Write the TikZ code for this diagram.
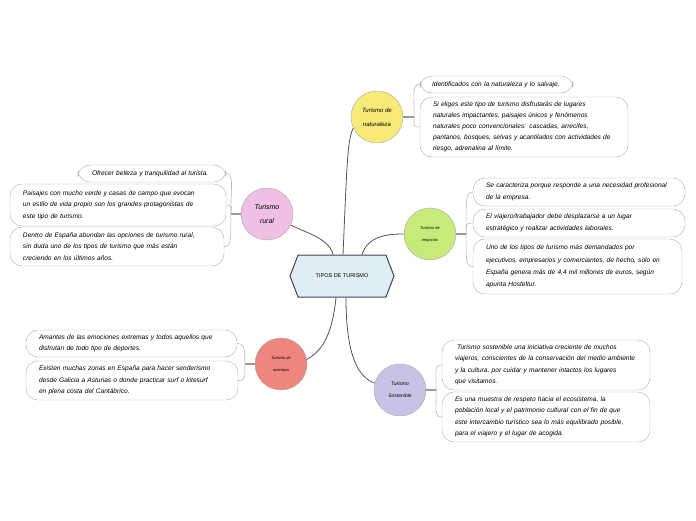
\documentclass[tikz,border=0pt]{standalone}
\usepackage{fontspec}
\setmainfont{Liberation Sans}
\usetikzlibrary{positioning, shapes.symbols}
\definecolor{hubblue}{RGB}{223,238,245}
\definecolor{hubedge}{RGB}{64,69,80}
\definecolor{natyellow}{RGB}{247,234,118}
\definecolor{neggreen}{RGB}{200,234,122}
\definecolor{ruralpink}{RGB}{239,192,228}
\definecolor{aventred}{RGB}{238,134,126}
\definecolor{sostlilac}{RGB}{201,194,230}
\definecolor{linkgray}{RGB}{85,85,85}

\begin{document}
\begin{tikzpicture}[x=1pt, y=-1pt,
       hub/.style={shape=signal, signal to=east and west, signal pointer angle=138,
                   draw=hubedge, line width=1pt, fill=hubblue, minimum width=104pt,
                   minimum height=42pt, font=\fontsize{5.5}{7}\selectfont},
       topic/.style={circle, draw=gray!70, fill=#1, minimum size=52pt, inner sep=0pt,
                   align=center},
       note/.style={draw=gray!65, rounded corners=12pt, fill=white, align=left,
                   text width=#1, inner xsep=13pt, inner ysep=0pt,
                   font=\fontsize{6.6}{11.5}\selectfont\itshape},
       lnk/.style={draw=linkgray, line width=0.8pt},
       stub/.style={draw=gray!80, line width=1.3pt},
       brace/.style={draw=gray!55, line width=0.6pt}]
     \useasboundingbox (0,0) rectangle (696,520);
     % centre and topics
     \node[hub] (hub) at (342,276) {TIPOS DE TURISMO};
     \node[topic=natyellow, font=\fontsize{6}{14}\selectfont\itshape] (natur) at (377,117) {Turismo de\\naturaleza};
     \node[topic=neggreen, font=\fontsize{4}{12}\selectfont\itshape] (neg) at (430,234) {Turismo de\\negocios};
     \node[topic=ruralpink, font=\fontsize{7}{14}\selectfont\itshape] (rural) at (267,214) {Turismo\\rural};
     \node[topic=aventred, font=\fontsize{4}{12}\selectfont\itshape] (avent) at (281,364) {Turismo de\\aventura};
     \node[topic=sostlilac, font=\fontsize{5}{12}\selectfont\itshape] (sost) at (400,390) {Turismo\\Sostenible};
     \draw[lnk] ([xshift=-9pt]hub.north) .. controls +(-4,-16) and +(16,8) .. (rural.-25);
     \draw[lnk] ([xshift=1pt]hub.north) .. controls +(4,-90) and +(-6,12) .. (natur.205);
     \draw[lnk] ([xshift=20pt]hub.north) .. controls +(6,-18) and +(-18,0) .. (neg.west);
     \draw[lnk] ([xshift=-6pt]hub.south) .. controls +(-4,40) and +(14,-8) .. (avent.10);
     \draw[lnk] ([xshift=4pt]hub.south) .. controls +(0,60) and +(-16,-6) .. (sost.165);
     % naturaleza
     \node[note=141pt, inner xsep=6pt, minimum height=17pt] (nat1) at (496.5,84.5) {\hspace*{6pt}Identificados con la naturaleza y lo salvaje.};
     \node[note=182pt, minimum height=60pt, font=\fontsize{6.6}{11}\selectfont\itshape] (nat2) at (524,127)
        {Si eliges este tipo de turismo disfrutarás de lugares\\naturales impactantes, paisajes únicos y fenómenos\\naturales poco convencionales: cascadas, arrecifes,\\pantanos, bosques, selvas y acantilados con actividades de\\riesgo, adrenalina al límite.};
     \coordinate (jnat) at ([xshift=11pt]natur.east);
     \draw[stub] (natur.east) -- (jnat);
     \draw[brace] (jnat) .. controls +(0,-25) and +(-8,0) .. (nat1.west);
     \draw[brace] (jnat) .. controls +(0,8) and +(-8,0) .. (nat2.west);
     % negocios
     \node[note=186pt, minimum height=28pt] (neg1) at (579,192) {Se caracteriza porque responde a una necesidad profesional\\de la empresa.};
     \node[note=186pt, minimum height=28pt] (neg2) at (579,223) {El viajero/trabajador debe desplazarse a un lugar\\estratégico y realizar actividades laborales.};
     \node[note=183pt, minimum height=55pt, font=\fontsize{6.6}{12.3}\selectfont\itshape] (neg3) at (577.5,266.5)
        {Uno de los tipos de turismo más demandados por\\ejecutivos, empresarios y comerciantes, de hecho, solo en\\España genera más de 4,4 mil millones de euros, según\\apunta Hosteltur.};
     \coordinate (jneg) at ([xshift=10pt]neg.east);
     \draw[stub] (neg.east) -- (jneg);
     \draw[brace] (jneg) .. controls +(0,-30) and +(-8,0) .. (neg1.west);
     \draw[brace] (jneg) .. controls +(0,-8) and +(-8,0) .. (neg2.west);
     \draw[brace] (jneg) .. controls +(0,22) and +(-8,0) .. (neg3.west);
     % rural
     \node[note=122pt, minimum height=17pt] (rur1) at (152,173.5) {\hspace*{1pt}Ofrecer belleza y tranquilidad al turista.};
     \node[note=190pt, minimum height=42pt] (rur2) at (118,205) {Paisajes con mucho verde y casas de campo que evocan\\un estilo de vida propio son los grandes protagonistas de\\este tipo de turismo.};
     \node[note=188pt, minimum height=39pt] (rur3) at (117,246.5) {Dentro de España abundan las opciones de turismo rural,\\sin duda uno de los tipos de turismo que más están\\creciendo en los últimos años.};
     \coordinate (jrur) at ([xshift=-10pt]rural.west);
     \draw[stub] (rural.west) -- (jrur);
     \draw[brace] (jrur) .. controls +(0,-28) and +(8,0) .. (rur1.east);
     \draw[brace] (jrur) .. controls +(0,-6) and +(8,0) .. (rur2.east);
     \draw[brace] (jrur) .. controls +(0,22) and +(8,0) .. (rur3.east);
     % aventura
     \node[note=185pt, minimum height=27pt] (av1) at (131.5,343.5) {Amantes de las emociones extremas y todos aquellos que\\disfrutan de todo tipo de deportes.};
     \node[note=186pt, minimum height=39pt] (av2) at (132,380.5) {Existen muchas zonas en España para hacer senderismo\\desde Galicia a Asturias o donde practicar surf o kitesurf\\en plena costa del Cantábrico.};
     \coordinate (jav) at ([xshift=-10pt]avent.west);
     \draw[stub] (avent.west) -- (jav);
     \draw[brace] (jav) .. controls +(0,-14) and +(8,0) .. (av1.east);
     \draw[brace] (jav) .. controls +(0,12) and +(8,0) .. (av2.east);
     % sostenible
     \node[note=182pt, minimum height=50pt] (sos1) at (546,365) {\hspace*{2pt}Turismo sostenible una iniciativa creciente de muchos\\viajeros, conscientes de la conservación del medio ambiente\\y la cultura, por cuidar y mantener intactos los lugares\\que visitamos.};
     \node[note=182pt, minimum height=50pt] (sos2) at (546,417) {Es una muestra de respeto hacia el ecosistema, la\\población local y el patrimonio cultural con el fin de que\\este intercambio turístico sea lo más equilibrado posible,\\para el viajero y el lugar de acogida.};
     \coordinate (jsos) at ([xshift=10pt]sost.east);
     \draw[stub] (sost.east) -- (jsos);
     \draw[brace] (jsos) .. controls +(0,-20) and +(-8,0) .. (sos1.west);
     \draw[brace] (jsos) .. controls +(0,20) and +(-8,0) .. (sos2.west);
   \end{tikzpicture}
\end{document}
